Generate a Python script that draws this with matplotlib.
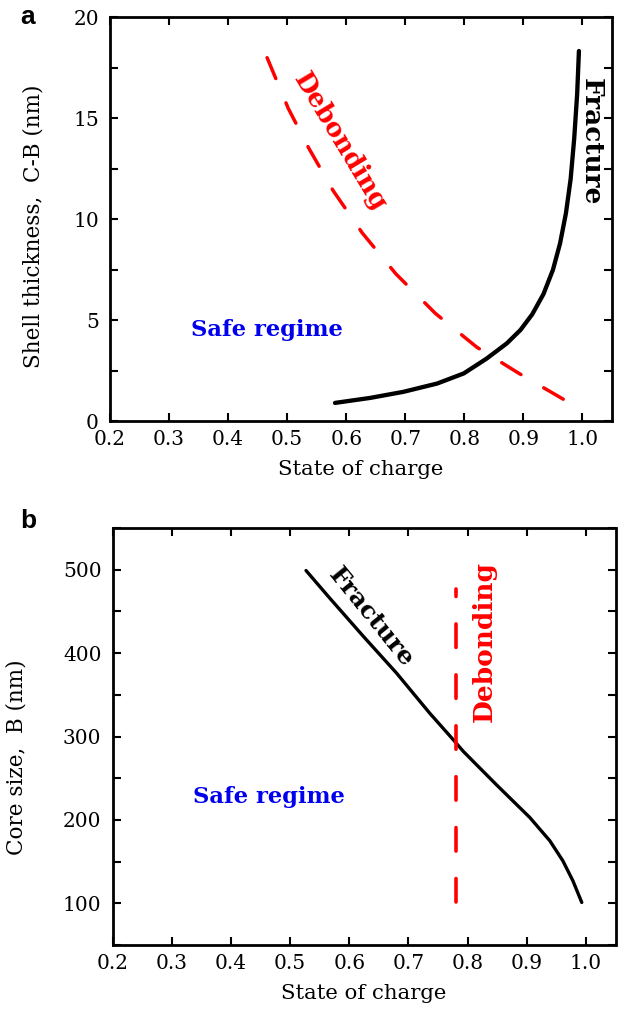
import numpy as np
import matplotlib.pyplot as plt
from matplotlib.ticker import MultipleLocator

# Panel a: shell thickness C-B (nm) vs state of charge
frac_a_soc = [0.581, 0.641, 0.697, 0.754, 0.799, 0.838, 0.872, 0.895, 0.915, 0.934,
              0.950, 0.962, 0.972, 0.980, 0.986, 0.991, 0.994]
frac_a_thk = [0.91, 1.16, 1.46, 1.87, 2.37, 3.11, 3.86, 4.52, 5.3, 6.3,
              7.5, 8.8, 10.3, 12.0, 14.0, 16.2, 18.33]
deb_a_soc = [0.466, 0.502, 0.537, 0.578, 0.627, 0.684, 0.751, 0.821, 0.892, 0.963, 0.980]
deb_a_thk = [18.0, 15.48, 13.5, 11.41, 9.33, 7.30, 5.34, 3.67, 2.38, 1.17, 0.88]

# Panel b: core size B (nm) vs state of charge
frac_b_soc = [0.527, 0.567, 0.624, 0.680, 0.736, 0.776, 0.793, 0.849, 0.905,
              0.939, 0.961, 0.978, 0.993]
frac_b_core = [499, 466, 420, 376, 328, 296, 282, 242, 203, 175, 151, 127, 101]
deb_b_soc = [0.78, 0.78]
deb_b_core = [101, 477]

x_ticks = [0.2, 0.3, 0.4, 0.5, 0.6, 0.7, 0.8, 0.9, 1.0]

plt.rcParams["font.family"] = "DejaVu Serif"

fig = plt.figure(figsize=(6.24, 10.14), dpi=100)
ax1 = fig.add_axes([110 / 624, 1 - 421.3 / 1014, 502 / 624, 404 / 1014])
ax2 = fig.add_axes([112.5 / 624, 1 - 945 / 1014, 503 / 624, 417 / 1014])

red = "#ff0000"
blue = "#0000ee"
dash = (0, (6.5, 7.6))

# ---- panel a ----
ax1.plot(frac_a_soc, frac_a_thk, color="black", lw=3.1, solid_capstyle="round",
         solid_joinstyle="round")
ax1.plot(deb_a_soc, deb_a_thk, color=red, lw=2.5, linestyle=dash, dash_capstyle="round")
ax1.set_xlim(0.2, 1.05)
ax1.set_ylim(0, 20)
ax1.yaxis.set_major_locator(MultipleLocator(5))
ax1.yaxis.set_minor_locator(MultipleLocator(2.5))
ax1.set_ylabel("Shell thickness,  C-B (nm)", fontsize=15.5)
ax1.yaxis.set_label_coords(-0.13, 0.483)
ax1.text(0.590, 13.84, "Debonding", color=red, fontsize=18.5, fontweight="bold",
         rotation=-58.9, ha="center", va="center", rotation_mode="anchor")
ax1.text(1.015, 13.84, "Fracture", color="black", fontsize=19, fontweight="bold",
         rotation=-90, ha="center", va="center")
ax1.text(0.466, 4.23, "Safe regime", color=blue, fontsize=16.3, fontweight="bold",
         ha="center", va="baseline")

# ---- panel b ----
ax2.plot(frac_b_soc, frac_b_core, color="black", lw=2.4, solid_capstyle="round",
         solid_joinstyle="round")
ax2.plot(deb_b_soc, deb_b_core, color=red, lw=2.6, linestyle=dash, dash_capstyle="round")
ax2.set_xlim(0.2, 1.05)
ax2.set_ylim(50, 550)
ax2.yaxis.set_major_locator(MultipleLocator(100))
ax2.yaxis.set_minor_locator(MultipleLocator(50))
ax2.set_ylabel("Core size,  B (nm)", fontsize=15.5)
ax2.yaxis.set_label_coords(-0.168, 0.45)
ax2.text(0.638, 443, "Fracture", color="black", fontsize=18, fontweight="bold",
         rotation=-50.9, ha="center", va="center", rotation_mode="anchor")
ax2.text(0.829, 414, "Debonding", color=red, fontsize=19, fontweight="bold",
         rotation=90, ha="center", va="center")
ax2.text(0.464, 220, "Safe regime", color=blue, fontsize=16.3, fontweight="bold",
         ha="center", va="baseline")

for ax in (ax1, ax2):
    ax.set_xticks(x_ticks)
    ax.set_xticklabels([f"{t:.1f}" for t in x_ticks])
    ax.set_xlabel("State of charge", fontsize=15.3, labelpad=8)
    ax.tick_params(which="both", direction="in", top=True, right=True,
                   length=6, width=1.5, labelsize=14.5)
    ax.tick_params(axis="x", pad=6.5)
    ax.tick_params(axis="y", pad=8)
    for s in ax.spines.values():
        s.set_linewidth(2.0)

fig.text(20 / 624, 1 - 17 / 1014, "a", fontsize=19, fontweight="bold",
         family="Liberation Sans", ha="left", va="center")
fig.text(20 / 624, 1 - 521 / 1014, "b", fontsize=19, fontweight="bold",
         family="Liberation Sans", ha="left", va="center")

fig.savefig("out.png", dpi=100)
